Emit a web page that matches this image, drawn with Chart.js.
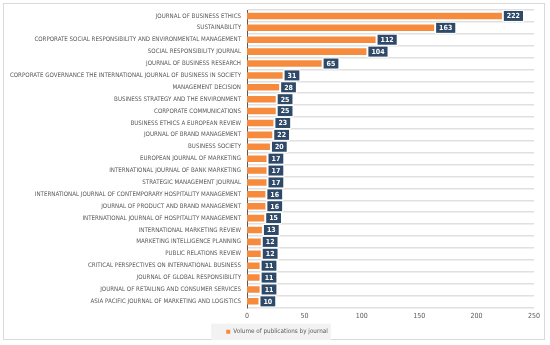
<!DOCTYPE html>
<html>
<head>
<meta charset="utf-8">
<script src="https://cdn.jsdelivr.net/npm/chart.js@4/dist/chart.umd.min.js"></script>
<style>
  html, body { margin: 0; padding: 0; background: #ffffff; }
  #frame { position: absolute; left: 3px; top: 3px; width: 542px; height: 337px; border: 1px solid #d9d9d9; box-sizing: border-box; }
  #wrap { position: absolute; left: 0; top: 0; width: 550px; height: 345px; }
</style>
</head>
<body>
<div id="frame"></div>
<div id="wrap"><canvas id="c" width="550" height="345"></canvas></div>
<script>
const journals = [
  "JOURNAL OF BUSINESS ETHICS",
  "SUSTAINABILITY",
  "CORPORATE SOCIAL RESPONSIBILITY AND ENVIRONMENTAL MANAGEMENT",
  "SOCIAL RESPONSIBILITY JOURNAL",
  "JOURNAL OF BUSINESS RESEARCH",
  "CORPORATE GOVERNANCE THE INTERNATIONAL JOURNAL OF BUSINESS IN SOCIETY",
  "MANAGEMENT DECISION",
  "BUSINESS STRATEGY AND THE ENVIRONMENT",
  "CORPORATE COMMUNICATIONS",
  "BUSINESS ETHICS A EUROPEAN REVIEW",
  "JOURNAL OF BRAND MANAGEMENT",
  "BUSINESS SOCIETY",
  "EUROPEAN JOURNAL OF MARKETING",
  "INTERNATIONAL JOURNAL OF BANK MARKETING",
  "STRATEGIC MANAGEMENT JOURNAL",
  "INTERNATIONAL JOURNAL OF CONTEMPORARY HOSPITALITY MANAGEMENT",
  "JOURNAL OF PRODUCT AND BRAND MANAGEMENT",
  "INTERNATIONAL JOURNAL OF HOSPITALITY MANAGEMENT",
  "INTERNATIONAL MARKETING REVIEW",
  "MARKETING INTELLIGENCE PLANNING",
  "PUBLIC RELATIONS REVIEW",
  "CRITICAL PERSPECTIVES ON INTERNATIONAL BUSINESS",
  "JOURNAL OF GLOBAL RESPONSIBILITY",
  "JOURNAL OF RETAILING AND CONSUMER SERVICES",
  "ASIA PACIFIC JOURNAL OF MARKETING AND LOGISTICS"
];
const publications = [222, 163, 112, 104, 65, 31, 28, 25, 25, 23, 22, 20, 17, 17, 17, 16, 16, 15, 13, 12, 12, 11, 11, 11, 10];
const seriesLabel = "Volume of publications by journal";
const xTicks = [0, 50, 100, 150, 200, 250];

const FONT = "'Liberation Sans Narrow', 'DejaVu Sans Condensed', 'Liberation Sans', sans-serif";

const valueLabels = {
  id: 'valueLabels',
  afterDatasetsDraw(chart) {
    const ctx = chart.ctx;
    const meta = chart.getDatasetMeta(0);
    ctx.save();
    ctx.font = "bold 7px " + FONT;
    ctx.textBaseline = 'middle';
    ctx.textAlign = 'center';
    meta.data.forEach((bar, i) => {
      const txt = String(publications[i]);
      const w = ctx.measureText(txt).width + 6;
      const h = 10;
      const x = bar.x + 2;
      const y = bar.y - h / 2;
      ctx.fillStyle = '#ffffff';
      ctx.fillRect(x - 1, y - 1, w + 2, h + 2);
      ctx.fillStyle = '#2f4a69';
      ctx.fillRect(x, y, w, h);
      ctx.fillStyle = '#ffffff';
      ctx.fillText(txt, x + w / 2, bar.y + 0.5);
    });
    ctx.restore();
  }
};

const legendBg = {
  id: 'legendBg',
  afterUpdate(chart) {
    const lg = chart.legend;
    if (!lg) return;
    const dx = 7;
    lg.left += dx; lg.right += dx;
    (lg.legendHitBoxes || []).forEach(hb => { hb.left += dx; });
  },
  beforeDraw(chart) {
    const lg = chart.legend;
    if (!lg || !lg.legendHitBoxes || !lg.legendHitBoxes.length) return;
    const hb = lg.legendHitBoxes[0];
    const ctx = chart.ctx;
    ctx.save();
    ctx.fillStyle = '#f2f2f2';
    ctx.fillRect(hb.left - 15, hb.top - 5, hb.width + 18, hb.height + 10);
    ctx.restore();
  }
};

new Chart(document.getElementById('c'), {
  type: 'bar',
  data: {
    labels: journals,
    datasets: [{
      label: seriesLabel,
      data: publications,
      backgroundColor: '#f78b3d',
      borderWidth: 0,
      barPercentage: 0.55,
      categoryPercentage: 1.0
    }]
  },
  options: {
    indexAxis: 'y',
    responsive: false,
    animation: false,
    devicePixelRatio: 1,
    layout: { padding: { left: 6, right: 16, top: 10, bottom: 0 } },
    plugins: {
      legend: {
        position: 'bottom',
        labels: {
          boxWidth: 4, boxHeight: 4, padding: 3,
          color: '#595959',
          font: { family: FONT, size: 6.3 }
        }
      },
      tooltip: { enabled: false }
    },
    scales: {
      x: {
        min: 0, max: 250,
        afterBuildTicks(s) { s.ticks = xTicks.map(v => ({ value: v })); },
        grid: { display: false, drawTicks: false },
        border: { display: false },
        ticks: { color: '#595959', font: { family: FONT, size: 7 }, padding: 5 }
      },
      y: {
        afterFit(s) { s.width = 241; },
        grid: { display: true, offset: true, color: '#e0e0e0', lineWidth: 1.5, drawTicks: false },
        border: { display: true, color: '#595959', width: 1 },
        ticks: { color: '#595959', font: { family: FONT, size: 6.15 }, padding: 6, autoSkip: false }
      }
    }
  },
  plugins: [legendBg, valueLabels]
});
</script>
</body>
</html>
